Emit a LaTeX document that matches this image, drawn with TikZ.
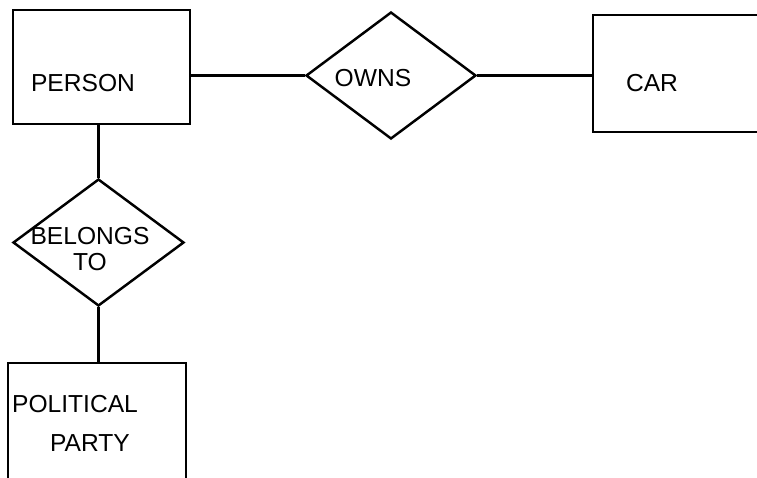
\documentclass[tikz,border=0pt]{standalone}
\usepackage{fontspec}
\setmainfont{Liberation Sans}
\usetikzlibrary{shapes.geometric}
\tikzset{
  entity/.style={draw, line width=1.4pt, rectangle, inner sep=0pt},
  relation/.style={draw, line width=1.4pt, diamond, inner sep=0pt},
  link/.style={line width=1.4pt},
  lbl/.style={font=\fontsize{14}{15}\selectfont, inner sep=0pt}
}
\begin{document}
\begin{tikzpicture}[x=0.02cm,y=-0.02cm]
  \useasboundingbox (0,0) rectangle (757,477);
  \clip (0,0) rectangle (757,477);
  \node[entity, minimum width=3.54cm, minimum height=2.28cm] (person) at (101.5,67) {}; % PERSON box
  \node[lbl] (persontxt) at (83,83) {PERSON}; % PERSON label
  \node[relation, minimum width=3.4cm, minimum height=2.54cm] (owns) at (391,75.5) {}; % OWNS diamond
  \node[lbl] (ownstxt) at (373,78) {OWNS}; % OWNS label
  \node[entity, minimum width=4cm, minimum height=2.34cm] (car) at (693,73.5) {}; % CAR box, runs off the page
  \node[lbl] (cartxt) at (652,83) {CAR}; % CAR label
  \node[relation, minimum width=3.42cm, minimum height=2.54cm] (belongs) at (98.5,242.5) {}; % BELONGS TO diamond
  \node[lbl, align=center] (belongstxt) at (90,249) {BELONGS\\TO}; % BELONGS TO label
  \node[entity, minimum width=3.56cm, minimum height=3cm] (party) at (97,438) {}; % POLITICAL PARTY box
  \node[lbl] (politicaltxt) at (75,404) {POLITICAL}; % POLITICAL label
  \node[lbl] (partytxt) at (90,443) {PARTY}; % PARTY label

  \draw[link] (owns.west -| person.east) -- (owns.west); % PERSON -- OWNS
  \draw[link] (owns.east) -- (owns.east -| car.west); % OWNS -- CAR
  \draw[link] (belongs.north |- person.south) -- (belongs.north); % PERSON -- BELONGS TO
  \draw[link] (belongs.south) -- (belongs.south |- party.north); % BELONGS TO -- PARTY
\end{tikzpicture}
\end{document}
